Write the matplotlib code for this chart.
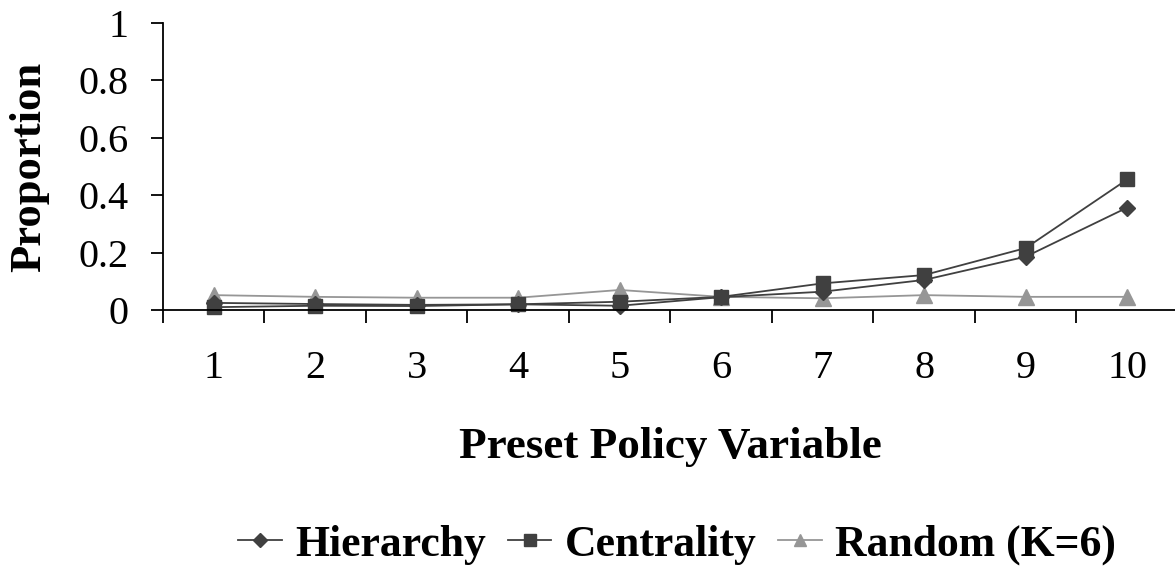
import numpy as np
import matplotlib.pyplot as plt

# proportion per preset policy value
policy = [1, 2, 3, 4, 5, 6, 7, 8, 9, 10]
hierarchy = [0.025, 0.021, 0.018, 0.020, 0.015, 0.045, 0.064, 0.105, 0.186, 0.357]
centrality = [0.010, 0.015, 0.014, 0.020, 0.029, 0.046, 0.093, 0.122, 0.216, 0.455]
random_k6 = [0.052, 0.046, 0.043, 0.043, 0.070, 0.046, 0.041, 0.052, 0.046, 0.046]
yticks = [0, 0.2, 0.4, 0.6, 0.8, 1]

plt.rcParams['font.family'] = ['Liberation Serif', 'DejaVu Serif']

fig = plt.figure(figsize=(11.75, 5.71), dpi=100)
ax = fig.add_axes([0.1387, 0.457, 0.8638, 0.5026])

dark = '#404040'
light = '#969696'
ax.plot(policy, hierarchy, color=dark, lw=1.3, marker='D', ms=8,
        label='Hierarchy', clip_on=False)
ax.plot(policy, centrality, color=dark, lw=1.3, marker='s', ms=9.5,
        label='Centrality', clip_on=False)
ax.plot(policy, random_k6, color=light, lw=1.3, marker='^', ms=11,
        label='Random (K=6)', clip_on=False, zorder=1.5)

ax.set_xlim(0.5, 10.5)
ax.set_ylim(0, 1)
ax.set_yticks(yticks)
ax.set_yticklabels(['0', '0.2', '0.4', '0.6', '0.8', '1'])
ax.set_xticks(policy)
ax.set_xticks(np.arange(0.5, 11, 1), minor=True)

for side in ['top', 'right']:
    ax.spines[side].set_visible(False)
for side in ['left', 'bottom']:
    ax.spines[side].set_linewidth(1.3)

ax.tick_params(axis='x', which='major', length=0, pad=29, labelsize=29)
ax.tick_params(axis='x', which='minor', length=9, width=1.3, direction='out')
ax.tick_params(axis='y', length=9, width=1.3, direction='out', pad=16, labelsize=29)

fig.text(29/1175, 1 - 167/571, 'Proportion', rotation=90, ha='center', va='center',
         fontsize=32, fontweight='bold')
fig.text(670/1175, 1 - 458/571, 'Preset Policy Variable', ha='center', va='baseline',
         fontsize=32.5, fontweight='bold')

fig.legend(loc='center', bbox_to_anchor=(677/1175, 1 - 545/571), ncol=3, frameon=False,
           prop={'size': 31.5, 'weight': 'bold'}, handlelength=1.0, handletextpad=0.3,
           columnspacing=0.5, markerscale=0.85)

fig.savefig('out.png', dpi=100)
